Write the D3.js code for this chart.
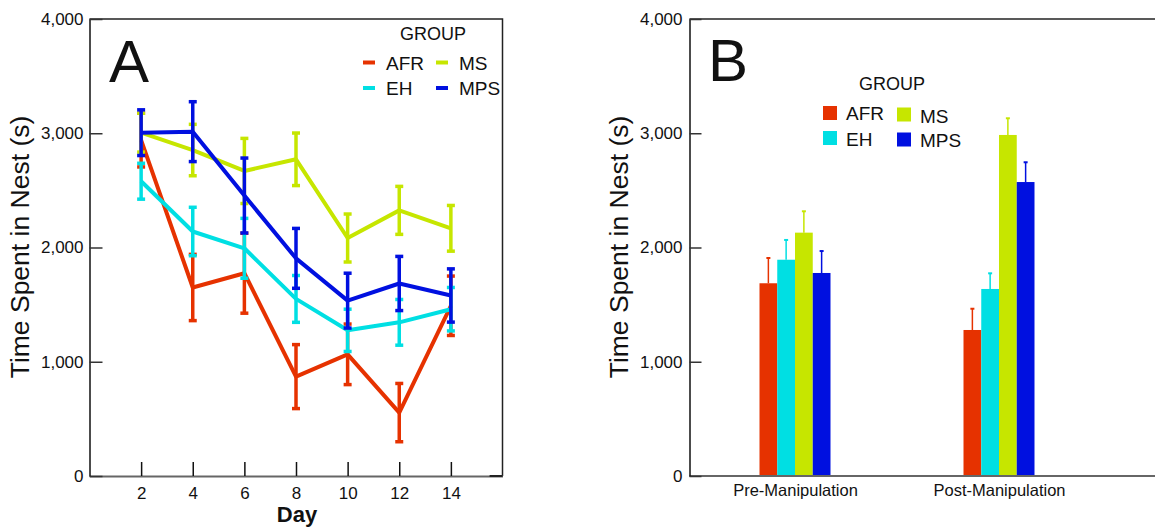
<!DOCTYPE html>
<html><head><meta charset="utf-8">
<script src="https://cdn.jsdelivr.net/npm/d3@7"></script>
<style>
body{margin:0;background:#fff;}
text{font-family:"Liberation Sans",Arial,sans-serif;fill:#111;}
</style></head><body>
<svg id="c" width="1155" height="529"></svg>
<script>
// ---- data ----
const groups = ["AFR","EH","MS","MPS"];
const colors = ["#e63200","#00dfe3","#c6e600","#0010e0"];
const days = [2,4,6,8,10,12,14];
const xTicks = [2,4,6,8,10,12,14];
const yTicks = [0,1000,2000,3000,4000];
const afrMean = [2940,1650,1775,870,1065,555,1490];
const afrErr  = [235,290,350,280,265,255,260];
const ehMean  = [2580,2140,1993,1550,1275,1345,1460];
const ehErr   = [157,212,262,205,185,200,190];
const msMean  = [3005,2853,2670,2772,2083,2325,2168];
const msErr   = [170,225,285,230,210,210,200];
const mpsMean = [3005,3014,2455,1905,1535,1685,1580];
const mpsErr  = [200,262,328,262,240,237,233];
const phases = ["Pre-Manipulation","Post-Manipulation"];
const barMeans = { AFR:[1687,1278], EH:[1893,1637], MS:[2130,2985], MPS:[1777,2573] };
const barErrs  = { AFR:[221,186],  EH:[173,137],  MS:[187,146],  MPS:[192,173] };

const lineMeans = [afrMean, ehMean, msMean, mpsMean];
const lineErrs = [afrErr, ehErr, msErr, mpsErr];

const svg = d3.select("#c");
const yTop = 19, yBot = 476;
const y = d3.scaleLinear().domain([0,4000]).range([yBot, yTop]);

// ---------------- Panel A ----------------
const aL = 89.5, aR = 502.5;
const xA = d3.scaleLinear().domain([0,16]).range([aL, aR]);
const gA = svg.append("g");

gA.append("path").attr("d",`M${aL},${yTop}H${aR}V${yBot}`).attr("fill","none").attr("stroke","#222").attr("stroke-width",1.5);

const axA = gA.append("g").attr("transform",`translate(0,${yBot})`)
  .call(d3.axisBottom(xA).tickValues(xTicks).tickSize(-14).tickSizeOuter(0).tickPadding(11));
axA.select(".domain").attr("stroke","#666").attr("stroke-width",2);
axA.selectAll(".tick line").attr("stroke","#111").attr("stroke-width",1.5);
axA.selectAll("text").attr("font-size",17).attr("fill","#111");
const ayA = gA.append("g").attr("transform",`translate(${aL},0)`)
  .call(d3.axisLeft(y).tickValues(yTicks).tickFormat(d3.format(",")).tickSize(-13).tickSizeOuter(0).tickPadding(6));
ayA.select(".domain").attr("stroke","#111").attr("stroke-width",1.5);
ayA.selectAll(".tick line").attr("stroke","#333").attr("stroke-width",1.5);
ayA.selectAll("text").attr("font-size",17).attr("fill","#111");
gA.append("line").attr("x1",xA(15.5)).attr("x2",aR).attr("y1",yBot).attr("y2",yBot).attr("stroke","#222").attr("stroke-width",2);

groups.forEach((g,i)=>{
  const sg = gA.append("g");
  const line = d3.line().x((d,j)=>xA(days[j])).y(d=>y(d));
  sg.append("path").datum(lineMeans[i]).attr("d",line).attr("fill","none")
    .attr("stroke",colors[i]).attr("stroke-width",4).attr("stroke-linejoin","round");
  lineMeans[i].forEach((m,j)=>{
    const e = lineErrs[i][j], cx = xA(days[j]);
    sg.append("line").attr("x1",cx).attr("x2",cx).attr("y1",y(m-e)).attr("y2",y(m+e))
      .attr("stroke",colors[i]).attr("stroke-width",3.5);
    [m-e,m+e].forEach(v=>sg.append("line").attr("x1",cx-4).attr("x2",cx+4).attr("y1",y(v)).attr("y2",y(v))
      .attr("stroke",colors[i]).attr("stroke-width",3.5));
  });
});

gA.append("text").attr("x",109).attr("y",82).attr("font-size",60).text("A");
gA.append("text").attr("transform",`translate(29,247) rotate(-90)`).attr("text-anchor","middle")
  .attr("font-size",26.5).text("Time Spent in Nest (s)");
gA.append("text").attr("x",297).attr("y",522).attr("text-anchor","middle").attr("font-size",22)
  .attr("font-weight","bold").text("Day");
gA.append("text").attr("x",433).attr("y",40).attr("text-anchor","middle").attr("font-size",18).text("GROUP");
const legA = [[363,62.5,386],[436,62.5,459],[363,88,386],[436,88,459]];
[0,2,1,3].forEach((gi,k)=>{
  const p = legA[k];
  gA.append("line").attr("x1",p[0]).attr("x2",p[0]+12).attr("y1",p[1]).attr("y2",p[1])
    .attr("stroke",colors[gi]).attr("stroke-width",4);
  gA.append("text").attr("x",p[2]).attr("y",p[1]+7).attr("font-size",19).text(groups[gi]);
});

// ---------------- Panel B ----------------
const bL = 689.5, bR = 1155;
const gB = svg.append("g");
const xB = d3.scalePoint().domain(phases).range([795, 999]);
const xSub = d3.scaleBand().domain(groups).range([-35.5, 35.5]);
gB.append("path").attr("d",`M${bL},${yTop}H${bR}`).attr("fill","none").attr("stroke","#222").attr("stroke-width",1.5);

phases.forEach((ph,pi)=>{
  groups.forEach((g,gi)=>{
    const x0 = xB(ph)+xSub(g), w = xSub.bandwidth();
    const m = barMeans[g][pi], e = barErrs[g][pi], cx = x0 + w/2;
    gB.append("rect").attr("x",x0).attr("y",y(m)).attr("width",w).attr("height",yBot-y(m)).attr("fill",colors[gi]);
    gB.append("line").attr("x1",cx).attr("x2",cx).attr("y1",y(m)).attr("y2",y(m+e)).attr("stroke",colors[gi]).attr("stroke-width",1.5);
    gB.append("line").attr("x1",cx-2).attr("x2",cx+2).attr("y1",y(m+e)).attr("y2",y(m+e)).attr("stroke",colors[gi]).attr("stroke-width",2);
  });
});

const axB = gB.append("g").attr("transform",`translate(0,${yBot})`)
  .call(d3.axisBottom(xB).tickSize(0).tickPadding(8));
axB.select(".domain").remove();
gB.append("line").attr("x1",bL).attr("x2",bR).attr("y1",yBot).attr("y2",yBot).attr("stroke","#666").attr("stroke-width",2);
axB.selectAll("text").attr("font-size",16.5).attr("fill","#111");
const ayB = gB.append("g").attr("transform",`translate(${bL},0)`)
  .call(d3.axisLeft(y).tickValues(yTicks).tickFormat(d3.format(",")).tickSize(-12).tickSizeOuter(0).tickPadding(7));
ayB.select(".domain").attr("stroke","#111").attr("stroke-width",1.5);
ayB.selectAll(".tick line").attr("stroke","#333").attr("stroke-width",1.5);
ayB.selectAll("text").attr("font-size",17).attr("fill","#111");

gB.append("text").attr("x",708).attr("y",81).attr("font-size",60).text("B");
gB.append("text").attr("transform",`translate(628,247) rotate(-90)`).attr("text-anchor","middle")
  .attr("font-size",26.5).text("Time Spent in Nest (s)");
gB.append("text").attr("x",892).attr("y",90).attr("text-anchor","middle").attr("font-size",18).text("GROUP");
const legB = [[823,106,846,120],[897,107.5,920,123],[823,131,846,145.5],[897,132.5,920,147]];
[0,2,1,3].forEach((gi,k)=>{
  const p = legB[k];
  gB.append("rect").attr("x",p[0]).attr("y",p[1]).attr("width",14).attr("height",14).attr("fill",colors[gi]);
  gB.append("text").attr("x",p[2]).attr("y",p[3]).attr("font-size",19).text(groups[gi]);
});
</script></body></html>
